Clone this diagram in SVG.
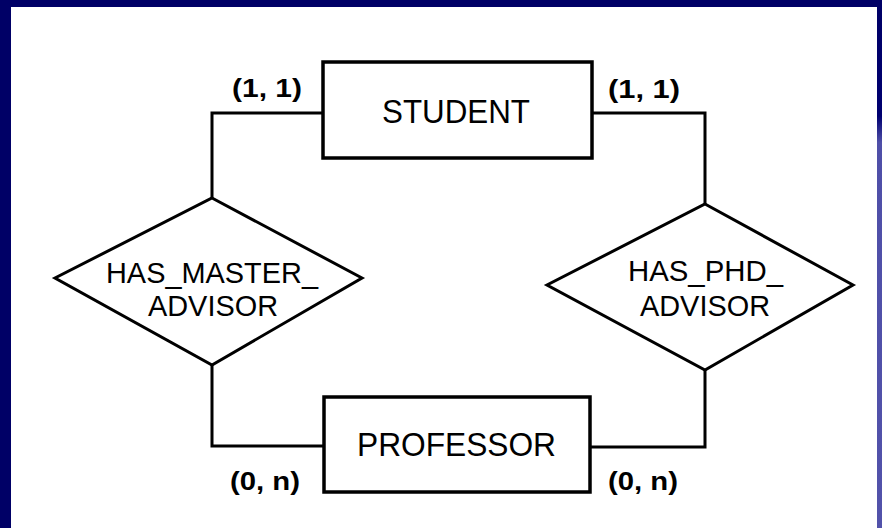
<svg xmlns="http://www.w3.org/2000/svg" width="882" height="528" viewBox="0 0 882 528">
  <defs>
    <linearGradient id="edgeShade" x1="0" y1="0" x2="0" y2="1">
      <stop offset="0" stop-color="#000066"/>
      <stop offset="0.22" stop-color="#000070"/>
      <stop offset="0.27" stop-color="#4f4fa8"/>
      <stop offset="1" stop-color="#5252aa"/>
    </linearGradient>
  </defs>
  <style>
    .frame { fill: none; stroke: #000; stroke-width: 3.5; }
    .link { fill: none; stroke: #000; stroke-width: 3; stroke-linejoin: miter; }
    .rel { fill: #fff; stroke: #000; stroke-width: 3; stroke-linejoin: miter; }
    .ent { font-family: "Liberation Sans", Arial, sans-serif; font-size: 34px; fill: #000; text-anchor: middle; }
    .rtx { font-family: "Liberation Sans", Arial, sans-serif; font-size: 29px; fill: #000; text-anchor: middle; }
    .card { font-family: "Liberation Sans", Arial, sans-serif; font-size: 25px; font-weight: bold; fill: #000; }
  </style>

  <!-- slide frame -->
  <rect x="0" y="0" width="882" height="528" fill="#000066"/>
  <rect x="877" y="0" width="5" height="528" fill="url(#edgeShade)"/>
  <rect x="11" y="7" width="866" height="521" fill="#fff"/>

  <!-- connectors -->
  <g id="connectors">
    <path class="link" d="M323,113 H212 V198"/>
    <path class="link" d="M592,113 H705 V204"/>
    <path class="link" d="M212,365 V446 H324"/>
    <path class="link" d="M705,370 V447 H590"/>
  </g>

  <!-- cardinality labels -->
  <g id="cardinalities">
    <text class="card" x="232" y="97" textLength="70" lengthAdjust="spacingAndGlyphs">(1, 1)</text>
    <text class="card" x="608" y="98" textLength="72" lengthAdjust="spacingAndGlyphs">(1, 1)</text>
    <text class="card" x="230" y="490" textLength="70" lengthAdjust="spacingAndGlyphs">(0, n)</text>
    <text class="card" x="608" y="490" textLength="70" lengthAdjust="spacingAndGlyphs">(0, n)</text>
  </g>

  <!-- entities -->
  <g id="student">
    <rect class="frame" x="323" y="62" width="269" height="96" fill="#fff"/>
    <text class="ent" x="456" y="123" textLength="148" lengthAdjust="spacingAndGlyphs">STUDENT</text>
  </g>
  <g id="professor">
    <rect class="frame" x="324" y="397" width="266" height="95" fill="#fff"/>
    <text class="ent" x="456.5" y="456" textLength="199" lengthAdjust="spacingAndGlyphs">PROFESSOR</text>
  </g>

  <!-- relationships -->
  <g id="has_master_advisor">
    <polygon class="rel" points="212,198 362,278 212,365 55,278"/>
    <text class="rtx" x="212" y="283" textLength="212" lengthAdjust="spacingAndGlyphs">HAS_MASTER_</text>
    <text class="rtx" x="213" y="316" textLength="130" lengthAdjust="spacingAndGlyphs">ADVISOR</text>
  </g>
  <g id="has_phd_advisor">
    <polygon class="rel" points="705,204 853,285 705,370 547,285"/>
    <text class="rtx" x="705.5" y="281" textLength="155" lengthAdjust="spacingAndGlyphs">HAS_PHD_</text>
    <text class="rtx" x="705" y="316" textLength="130" lengthAdjust="spacingAndGlyphs">ADVISOR</text>
  </g>
</svg>
